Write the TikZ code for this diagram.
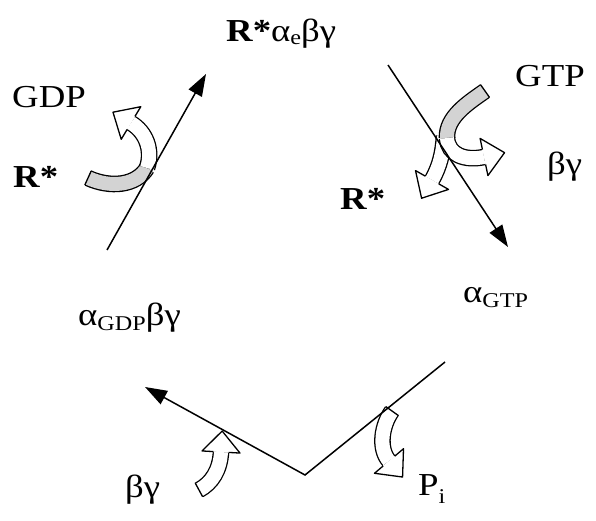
\documentclass[tikz,border=0pt]{standalone}
\usepackage{fontspec}
\setmainfont{Liberation Serif}[FakeStretch=1.15]
\usepackage{tikz}
\usetikzlibrary{arrows.meta,calc}
\definecolor{BandGrey}{HTML}{D3D3D3}
\tikzset{bandline/.style={draw=black,line width=1.3pt,line join=round},
  band/.style={line width=1.3pt,double=#1,double distance=14pt},
  band/.default=white,
  mainline/.style={line width=1.5pt,-{Triangle[length=22pt,width=15pt]}},
  lbl/.style={font=\fontsize{32}{36}\selectfont,anchor=base west,inner sep=0pt}}
\newcommand{\lowtxt}[2][-0.35ex]{\raisebox{#1}{\fontsize{21}{21}\selectfont #2}}
% end cap and open head of a block arrow: {end point}{point it comes from}
\newcommand{\bandcap}[2]{\draw[bandline] ($(#1)!7.65pt!90:(#2)$) -- ($(#1)!7.65pt!-90:(#2)$);}
\newcommand{\bandhead}[2]{\filldraw[bandline,fill=white] ($(#1)!7.65pt!90:(#2)$) -- ($(#1)!19pt!90:(#2)$)
  -- ($(#1)!21pt!180:(#2)$) -- ($(#1)!19pt!-90:(#2)$) -- ($(#1)!7.65pt!-90:(#2)$);}

\begin{document}
\begin{tikzpicture}[x=1pt,y=-1pt]
    \useasboundingbox (0,0) rectangle (596,521);
    \coordinate (inA) at (107,250);
    \coordinate (outA) at (206,74);
    \coordinate (inB) at (388,65);
    \coordinate (outB) at (508,247);
    \coordinate (inC) at (445,362);
    \coordinate (turn) at (305,475);
    \coordinate (outC) at (145,387);

    % R* in, GDP out
    \coordinate (gdpTail) at (88,178);
    \coordinate (gdpCross) at (147,168);
    \coordinate (gdpEnd) at (131,123);
    \draw[band=BandGrey] (gdpTail) .. controls (110,188) and (136,186) .. (gdpCross);
    \draw[band] (gdpCross) .. controls (153,150) and (146,132) .. (gdpEnd);
    \bandcap{gdpTail}{110,188}
    \bandhead{gdpEnd}{146,132}

    % GTP in, R* and betagamma out
    \coordinate (gtpTail) at (485,91);
    \coordinate (gtpCross) at (447,138);
    \coordinate (bgEnd) at (484,157);
    \coordinate (rEnd) at (432,180);
    \draw[band] (444,136) .. controls (443,152) and (440,166) .. (rEnd);
    \bandhead{rEnd}{440,166}
    \draw[band=BandGrey] (gtpTail) .. controls (468,103) and (446,117) .. (gtpCross);
    \draw[band] (gtpCross) .. controls (448,155) and (465,161) .. (bgEnd);
    \bandcap{gtpTail}{468,103}
    \bandhead{bgEnd}{465,161}

    % betagamma back in
    \coordinate (bgTail) at (199,490);
    \coordinate (bgIn) at (221,452);
    \draw[band] (bgTail) .. controls (212,483) and (220,470) .. (bgIn);
    \bandcap{bgTail}{212,483}
    \bandhead{bgIn}{220,470}

    % Pi out
    \coordinate (piTail) at (392,411);
    \coordinate (piEnd) at (389,461);
    \draw[band] (piTail) .. controls (382,425) and (378,448) .. (piEnd);
    \bandcap{piTail}{382,425}
    \bandhead{piEnd}{378,448}

    \draw[mainline] (inA) -- (outA);
    \draw[mainline] (inB) -- (outB);
    \draw[mainline] (inC) -- (turn) -- (outC);

    \node[lbl] (bound) at (226,42) {\textbf{R*}α\lowtxt[-0.2ex]{e}βγ};
    \node[lbl] (gdp) at (12,108) {GDP};
    \node[lbl] (rleft) at (13,188) {\textbf{R*}};
    \node[lbl] (gtp) at (515,87) {GTP};
    \node[lbl] (bgright) at (547,175) {βγ};
    \node[lbl] (rright) at (340,210) {\textbf{R*}};
    \node[lbl] (agtp) at (463,302) {α\lowtxt{GTP}};
    \node[lbl] (agdp) at (78,325) {α\lowtxt{GDP}βγ};
    \node[lbl] (bgbottom) at (125,497) {βγ};
    \node[lbl] (pi) at (418,495) {P\lowtxt[-0.6ex]{i}};
  \end{tikzpicture}
\end{document}
